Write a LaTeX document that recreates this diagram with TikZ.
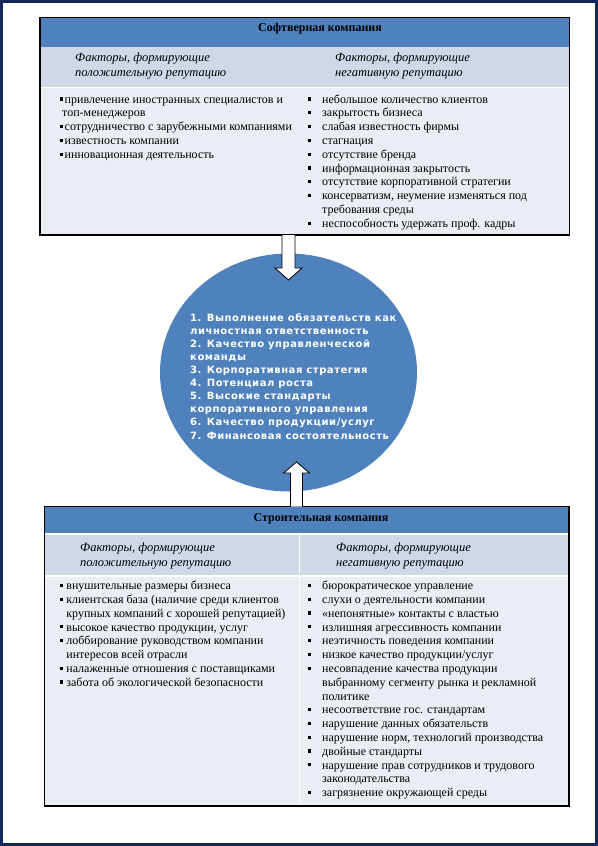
\documentclass[tikz,border=0pt]{standalone}
\usepackage{fontspec}
\setmainfont{Liberation Serif}
\newfontfamily\circfont[LetterSpace=5.4]{DejaVu Sans}
\usetikzlibrary{shapes.geometric}
\definecolor{hdrblue}{HTML}{4F81BD}
\definecolor{subblue}{HTML}{D0D8E8}
\definecolor{bodyblue}{HTML}{E9EDF4}
\definecolor{framenavy}{HTML}{14285A}
\newcommand\sqb{\rule[2.6bp]{3.2bp}{3.2bp}}
\newcommand\lba{\makebox[4.5bp][l]{\sqb}}
\newcommand\lbb{\makebox[6.7bp][l]{\sqb}}
\newcommand\lbc{\hspace*{6.7bp}}
\newcommand\rba{\makebox[14bp][l]{\sqb}}
\newcommand\rbc{\hspace*{14bp}}
\newcommand\bodyfont{\fontsize{12bp}{13.8bp}\selectfont}
\newcommand\subfont{\fontsize{12.5bp}{15bp}\selectfont\itshape}
\newcommand\hdrfont{\fontsize{12bp}{14bp}\selectfont\bfseries}
\newcommand\circtext{\circfont\fontsize{10bp}{13.1bp}\selectfont\bfseries}
\begin{document}
\begin{tikzpicture}[x=1bp,y=-1bp,
  band/.style={anchor=north west, inner sep=0pt, outer sep=0pt, minimum width=#1, draw=none},
  coltext/.style={anchor=north west, inner sep=0pt, align=left, font=\bodyfont},
  subtext/.style={anchor=north west, inner sep=0pt, align=left, font=\subfont},
  hdrtext/.style={anchor=base, inner sep=0pt, font=\hdrfont},
  blockarrow/.style={fill=white, draw=black, line width=0.8bp, line join=miter},
  tableframe/.style={draw=black, line width=1.3bp},
  sep/.style={draw=white, line width=1.5bp}]
\useasboundingbox (0,0) rectangle (598,846);
% outer frame
\draw[framenavy, line width=3bp] (1.5,1.5) rectangle (596.5,844.5);

% ---------- top table ----------
\node[band=529.5bp, minimum height=29.4bp, fill=hdrblue] (th) at (40,17.3) {};
\node[band=529.5bp, minimum height=41bp, fill=subblue] (ts) at (th.south west) {};
\node[band=529.5bp, minimum height=147.3bp, fill=bodyblue] (tb) at (ts.south west) {};
\draw[sep] (ts.south west) -- (ts.south east);
\draw[tableframe] (th.north west) rectangle (tb.south east);
\node[hdrtext] (thl) at (320,31) {Софтверная компания};
\node[subtext] (tsl) at (75,50.5) {\strut Факторы, формирующие\\положительную репутацию};
\node[subtext] (tsr) at (335,50.5) {\strut Факторы, формирующие\\негативную репутацию};
\node[coltext] (tbl) at (60,93.3) {\strut\lba привлечение иностранных специалистов и\\
\hspace*{2bp}топ-менеджеров\\
\lba сотрудничество с зарубежными компаниями\\
\lba известность компании\\
\lba инновационная деятельность};
\node[coltext] (tbr) at (308,93.3) {\strut\rba небольшое количество клиентов\\
\rba закрытость бизнеса\\
\rba слабая известность фирмы\\
\rba стагнация\\
\rba отсутствие бренда\\
\rba информационная закрытость\\
\rba отсутствие корпоративной стратегии\\
\rba консерватизм, неумение изменяться под\\
\rbc требования среды\\
\rba неспособность удержать проф. кадры};

% ---------- circle ----------
\node[ellipse, fill=hdrblue, inner sep=0pt, minimum width=257bp, minimum height=238bp] (circ) at (288.5,372.5) {};
\node[anchor=north west, inner sep=0pt, align=left, text=white, font=\circtext] (ctext) at (190,311.8) {\strut 1. Выполнение обязательств как\\
личностная ответственность\\
2. Качество управленческой\\
команды\\
3. Корпоративная стратегия\\
4. Потенциал роста\\
5. Высокие стандарты\\
корпоративного управления\\
6. Качество продукции/услуг\\
7. Финансовая состоятельность};

% ---------- bottom table ----------
\node[band=524.5bp, minimum height=27.3bp, fill=hdrblue] (bh) at (44.5,506.7) {};
\node[band=524.5bp, minimum height=42bp, fill=subblue] (bs) at (bh.south west) {};
\node[band=524.5bp, minimum height=230bp, fill=bodyblue] (bb) at (bs.south west) {};
\draw[sep] (bh.south west) -- (bh.south east);
\draw[sep] (bs.south west) -- (bs.south east);
\draw[sep] (299.5,534) -- (299.5,806);
\draw[tableframe] (bh.north west) rectangle (bb.south east);
\node[hdrtext] (bhl) at (321,521) {Строительная компания};
\node[subtext] (bsl) at (80,540.5) {\strut Факторы, формирующие\\положительную репутацию};
\node[subtext] (bsr) at (336,540.5) {\strut Факторы, формирующие\\негативную репутацию};
\node[coltext] (bbl) at (59.5,579.8) {\strut\lbb внушительные размеры бизнеса\\
\lbb клиентская база (наличие среди клиентов\\
\lbc крупных компаний с хорошей репутацией)\\
\lbb высокое качество продукции, услуг\\
\lbb лоббирование руководством компании\\
\lbc интересов всей отрасли\\
\lbb налаженные отношения с поставщиками\\
\lbb забота об экологической безопасности};
\node[coltext] (bbr) at (308,579.8) {\strut\rba бюрократическое управление\\
\rba слухи о деятельности компании\\
\rba «непонятные» контакты с властью\\
\rba излишняя агрессивность компании\\
\rba неэтичность поведения компании\\
\rba низкое качество продукции/услуг\\
\rba несовпадение качества продукции\\
\rbc выбранному сегменту рынка и рекламной\\
\rbc политике\\
\rba несоответствие гос. стандартам\\
\rba нарушение данных обязательств\\
\rba нарушение норм, технологий производства\\
\rba двойные стандарты\\
\rba нарушение прав сотрудников и трудового\\
\rbc законодательства\\
\rba загрязнение окружающей среды};

% ---------- block arrows ----------
\coordinate (a1tail) at (288.5,235);
\coordinate (a1tip) at (288.5,280);
\draw[blockarrow] ([xshift=-6.5bp]a1tail) -- ([xshift=-6.5bp,yshift=12bp]a1tip) -- ([xshift=-13.5bp,yshift=12bp]a1tip) -- (a1tip) -- ([xshift=13.5bp,yshift=12bp]a1tip) -- ([xshift=6.5bp,yshift=12bp]a1tip) -- ([xshift=6.5bp]a1tail);
\coordinate (a2tail) at (296.5,506.7);
\coordinate (a2tip) at (296.5,462);
\draw[blockarrow] ([xshift=-6bp]a2tail) -- ([xshift=-6bp,yshift=-11bp]a2tip) -- ([xshift=-13bp,yshift=-11bp]a2tip) -- (a2tip) -- ([xshift=13bp,yshift=-11bp]a2tip) -- ([xshift=6bp,yshift=-11bp]a2tip) -- ([xshift=6bp]a2tail);
\end{tikzpicture}
\end{document}
